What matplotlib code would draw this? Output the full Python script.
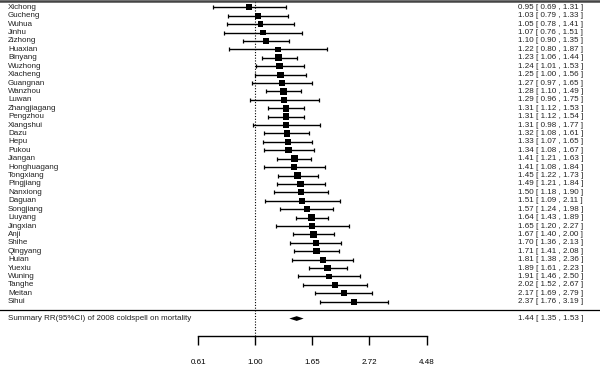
import numpy as np
import matplotlib.pyplot as plt

plt.rcParams['font.family'] = ['Liberation Sans', 'DejaVu Sans']

studies = ['Xichong', 'Gucheng', 'Wuhua', 'Jinhu', 'Zizhong', 'Huaxian', 'Binyang',
           'Wuzhong', 'Xiacheng', 'Guangnan', 'Wanzhou', 'Luwan', 'Zhangjiagang',
           'Pengzhou', 'Xiangshui', 'Dazu', 'Hepu', 'Pukou', 'Jiangan', 'Honghuagang',
           'Tongxiang', 'Pingjiang', 'Nanxiong', 'Daguan', 'Songjiang', 'Liuyang',
           'Jingxian', 'Anji', 'Shihe', 'Qingyang', 'Huian', 'Yuexiu', 'Wuning',
           'Tanghe', 'Meitan', 'Sihui']
rr = [0.95, 1.03, 1.05, 1.07, 1.10, 1.22, 1.23, 1.24, 1.25, 1.27, 1.28, 1.29, 1.31,
      1.31, 1.31, 1.32, 1.33, 1.34, 1.41, 1.41, 1.45, 1.49, 1.50, 1.51, 1.57, 1.64,
      1.65, 1.67, 1.70, 1.71, 1.81, 1.89, 1.91, 2.02, 2.17, 2.37]
lower = [0.69, 0.79, 0.78, 0.76, 0.90, 0.80, 1.06, 1.01, 1.00, 0.97, 1.10, 0.96, 1.12,
         1.12, 0.98, 1.08, 1.07, 1.08, 1.21, 1.08, 1.22, 1.21, 1.18, 1.09, 1.24, 1.43,
         1.20, 1.40, 1.36, 1.41, 1.38, 1.61, 1.46, 1.52, 1.69, 1.76]
upper = [1.31, 1.33, 1.41, 1.51, 1.35, 1.87, 1.44, 1.53, 1.56, 1.65, 1.49, 1.75, 1.53,
         1.54, 1.77, 1.61, 1.65, 1.67, 1.63, 1.84, 1.73, 1.84, 1.90, 2.11, 1.98, 1.89,
         2.27, 2.00, 2.13, 2.08, 2.36, 2.23, 2.50, 2.67, 2.79, 3.19]

summary_label = 'Summary RR(95%CI) of 2008 coldspell on mortality'
summary_rr = 1.44
summary_lower = 1.35
summary_upper = 1.53

tick_values = [0.61, 1.00, 1.65, 2.72, 4.48]

fs = 5.8
k = len(studies)
rows = np.arange(k, 0, -1)
est = np.log(rr)
lo = np.log(lower)
hi = np.log(upper)

fig = plt.figure(figsize=(6, 3.67), dpi=100)
ax = fig.add_axes([0, 0, 1, 1])
ax.set_xlim(-2.229, 3.016)
ax.set_ylim(-6.76, 36.87)

# box size from precision, like metafor
w = 1 / ((hi - lo) / (2 * 1.96))
psize = 4.0 + 1.0 * (w - w.min()) / (w.max() - w.min())

ax.errorbar(est, rows, xerr=[est - lo, hi - est], fmt='none', ecolor='black',
            elinewidth=1.0, capsize=1.6, capthick=0.9, zorder=2)
ax.scatter(est, rows, marker='s', s=psize ** 2, color='black', zorder=3, linewidths=0)

# summary diamond
s_est, s_lo, s_hi = np.log([summary_rr, summary_lower, summary_upper])
ax.fill([s_lo, s_est, s_hi, s_est], [-1, -0.72, -1, -1.28], color='black', lw=0, zorder=3)

ax.vlines(0, -3.08, 36.9, colors='black', linestyles=(0, (1, 1.5)), lw=0.8)
ax.axhline(0, color='black', lw=0.9)
ax.axhline(36.78, color='#444444', lw=1.8)

x_lab = -2.159
x_ann = 2.867
for r, name, m, l, u in zip(rows, studies, rr, lower, upper):
    ax.text(x_lab, r, name, ha='left', va='center', fontsize=fs, color='#222222')
    ax.text(x_ann, r, '%.2f [ %.2f , %.2f ]' % (m, l, u), ha='right', va='center',
            fontsize=fs, color='#222222')
ax.text(x_lab, -1, summary_label, ha='left', va='center', fontsize=fs, color='#222222')
ax.text(x_ann, -1, '%.2f [ %.2f , %.2f ]' % (summary_rr, summary_lower, summary_upper),
        ha='right', va='center', fontsize=fs, color='#222222')

# bottom axis
for side in ['top', 'right', 'left']:
    ax.spines[side].set_visible(False)
ax.spines['bottom'].set_position(('data', -3.08))
ax.spines['bottom'].set_bounds(np.log(tick_values[0]), np.log(tick_values[-1]))
ax.spines['bottom'].set_linewidth(1.0)
ax.set_xticks(np.log(tick_values))
ax.set_xticklabels(['%.2f' % t for t in tick_values], fontsize=fs)
ax.tick_params(axis='x', direction='out', length=6.5, width=1.0, pad=10)
ax.set_yticks([])

fig.savefig('out.png', dpi=100)
